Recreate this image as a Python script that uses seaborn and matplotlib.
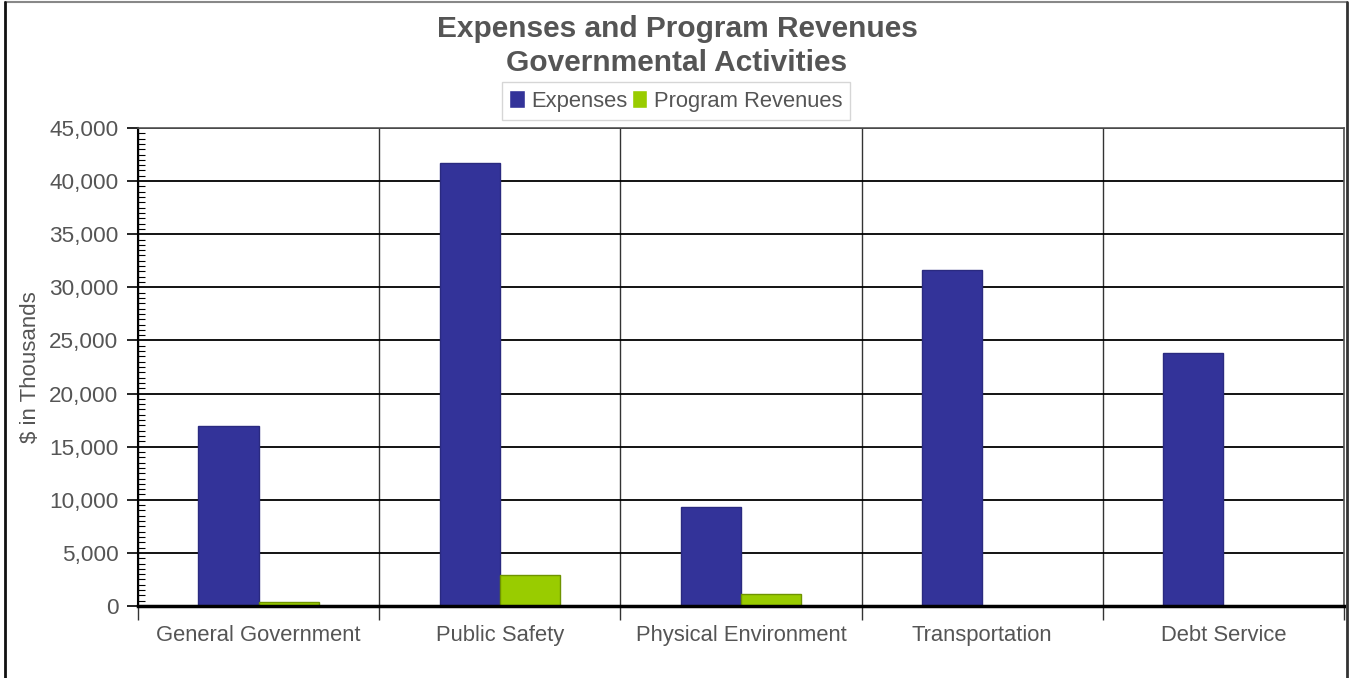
import matplotlib
matplotlib.use("Agg")
import matplotlib.pyplot as plt
import seaborn as sns
import pandas as pd
from matplotlib.ticker import MultipleLocator, FuncFormatter, FixedLocator
from matplotlib.patches import Rectangle
from matplotlib.lines import Line2D

categories = ["General Government", "Public Safety", "Physical Environment",
              "Transportation", "Debt Service"]
expenses = [16900, 41700, 9330, 31650, 23820]
program_revenues = [380, 2920, 1130, 40, 30]
series_names = ["Expenses", "Program Revenues"]
colors = ["#333399", "#99CC00"]
edge_colors = ["#2a2a80", "#6f9400"]

df = pd.DataFrame({
    "category": categories * 2,
    "value": expenses + program_revenues,
    "series": [series_names[0]] * len(categories) + [series_names[1]] * len(categories),
})

sns.set_theme(style="white")
plt.rcParams["font.family"] = ["Liberation Sans", "DejaVu Sans"]

fig = plt.figure(figsize=(13.5, 6.78), dpi=100)
ax = fig.add_axes([138 / 1350, 1 - 606 / 678, (1344 - 138) / 1350, (606 - 128) / 678])

sns.barplot(data=df, x="category", y="value", hue="series", palette=colors,
            width=0.5, saturation=1, ax=ax, zorder=3, legend=True)

for cont, ec in zip(ax.containers, edge_colors):
    for p in cont:
        p.set_edgecolor(ec)
        p.set_linewidth(1.0)

ax.set_xlim(-0.5, len(categories) - 0.5)
ax.set_ylim(0, 45000)

txt = "#555555"
ax.yaxis.set_major_locator(MultipleLocator(5000))
ax.yaxis.set_minor_locator(MultipleLocator(500))
ax.yaxis.set_major_formatter(FuncFormatter(lambda v, p: f"{int(v):,}"))
ax.tick_params(axis="y", which="major", direction="out", length=8, width=1.2,
               color="black", labelsize=16.2, labelcolor=txt, pad=6, left=True)
ax.tick_params(axis="y", which="minor", direction="in", length=5, width=0.8,
               color="black", left=True)

ax.xaxis.set_minor_locator(FixedLocator([i - 0.5 for i in range(len(categories) + 1)]))
ax.tick_params(axis="x", which="major", length=0, labelsize=15.8, labelcolor=txt, pad=14)
ax.tick_params(axis="x", which="minor", direction="out", length=10, width=1.0,
               color="#333333", bottom=True)

ax.grid(axis="y", which="major", color="black", linewidth=1.3, zorder=0)
ax.grid(axis="x", which="minor", color="#333333", linewidth=1.0, zorder=0)
ax.set_axisbelow(True)

for side in ["top", "right"]:
    ax.spines[side].set_color("#555555")
    ax.spines[side].set_linewidth(1.2)
ax.spines["left"].set_color("black")
ax.spines["left"].set_linewidth(1.5)
ax.spines["bottom"].set_color("black")
ax.spines["bottom"].set_linewidth(2.5)
ax.spines["bottom"].set_zorder(5)

ax.set_xlabel("")
ax.set_ylabel("$ in Thousands", fontsize=16, color=txt, labelpad=6)

handles, labels = ax.get_legend_handles_labels()
ax.legend(handles, labels, loc="center", bbox_to_anchor=(676 / 1350, 1 - 101 / 678),
          bbox_transform=fig.transFigure, ncol=2, frameon=True, fontsize=15.8,
          labelcolor=txt, handlelength=0.7, handleheight=0.9, handletextpad=0.3,
          columnspacing=0.2, borderpad=0.35, fancybox=False, edgecolor="#cccccc")

fig.text(677 / 1350, 1 - 29 / 678, "Expenses and Program Revenues", ha="center",
         va="center", fontsize=21.5, fontweight="bold", color=txt)
fig.text(677 / 1350, 1 - 63 / 678, "Governmental Activities", ha="center",
         va="center", fontsize=21.5, fontweight="bold", color=txt)

# figure frame: gray top, dark left and right
fig.lines.append(Line2D([5 / 1350, 1347 / 1350], [1 - 1.5 / 678, 1 - 1.5 / 678],
                        transform=fig.transFigure, color="#888888", linewidth=1.5))
fig.lines.append(Line2D([5 / 1350, 5 / 1350], [0, 1 - 1.5 / 678],
                        transform=fig.transFigure, color="#111111", linewidth=2.0))
fig.lines.append(Line2D([1347 / 1350, 1347 / 1350], [0, 1 - 1.5 / 678],
                        transform=fig.transFigure, color="#333333", linewidth=2.0))

fig.savefig("out.png", dpi=100)
